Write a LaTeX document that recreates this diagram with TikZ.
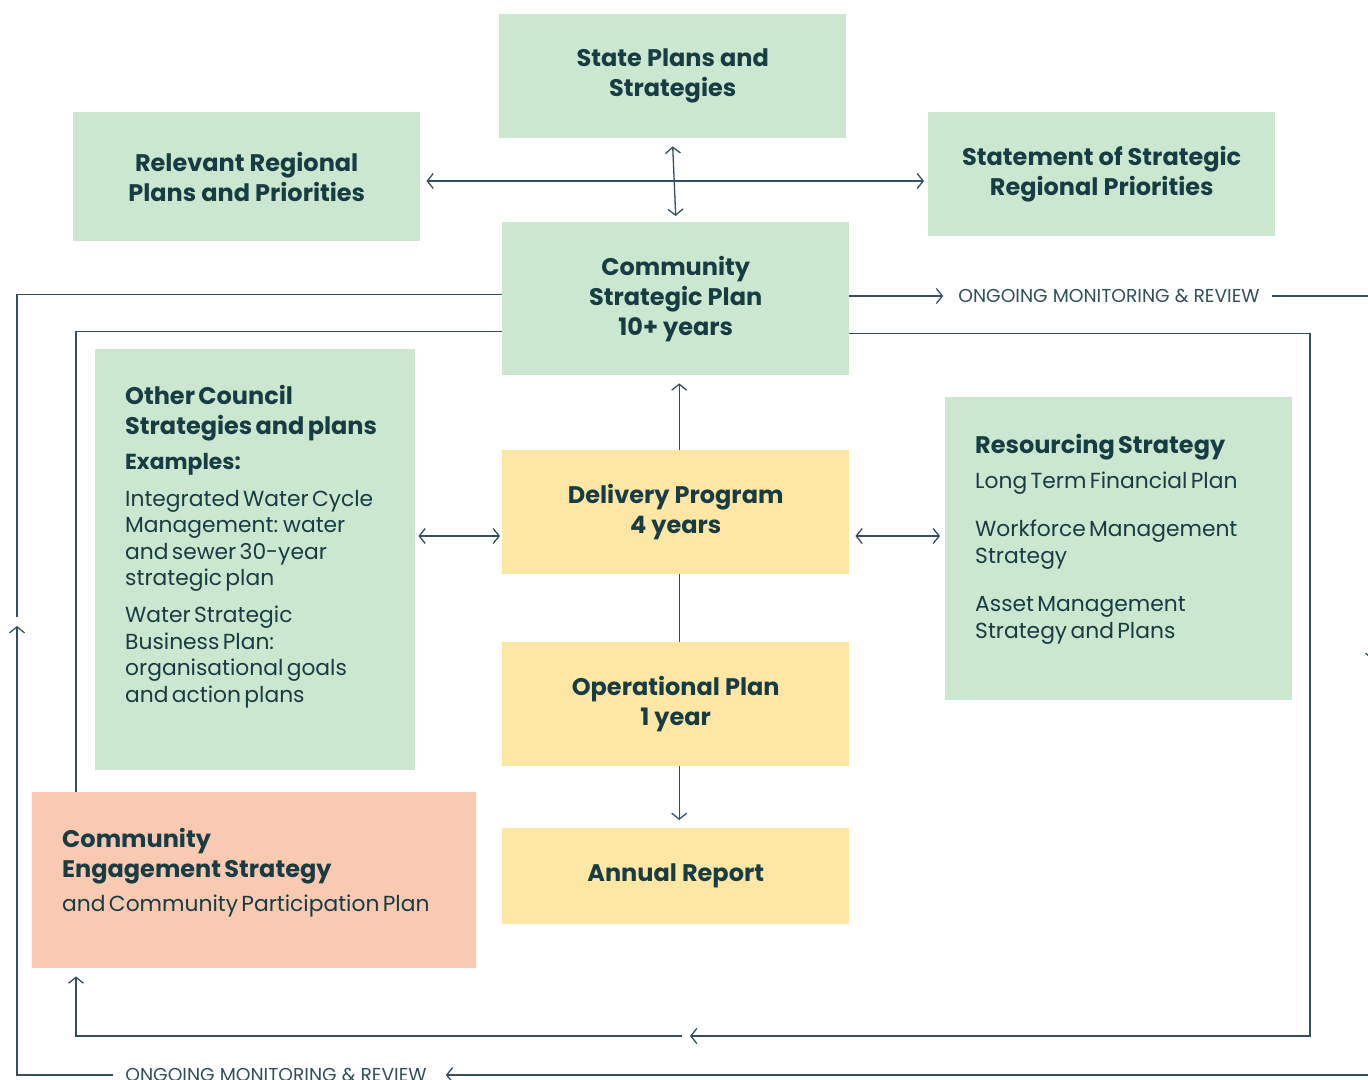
\documentclass[tikz,border=0pt]{standalone}
\usepackage{fontspec}
\setmainfont{Poppins}
\usetikzlibrary{arrows.meta}
\usetikzlibrary{positioning}

\definecolor{sage}{HTML}{CCE7CF}
\definecolor{butter}{HTML}{FEE6A4}
\definecolor{peach}{HTML}{FAC9B1}
\definecolor{ink}{HTML}{183C44}
\definecolor{wirec}{HTML}{34505F}
\tikzset{>={Straight Barb[length=6pt,width=15pt]}}

\newcommand{\hd}{\fontsize{24}{30}\selectfont\bfseries}
\newcommand{\bd}{\fontsize{21.8}{26.5}\selectfont}
\setlength{\parindent}{0pt}

\begin{document}
\begin{tikzpicture}[x=1pt, y=-1pt,
  card/.style={anchor=north west, inner sep=0pt, minimum width=347pt, minimum height=124pt,
    align=center, text=ink, font=\hd},
  blurb/.style={anchor=north west, inner sep=0pt, text=ink, text width=#1, align=left},
  tag/.style={inner xsep=12pt, inner ysep=0pt, text=ink!90, font=\fontsize{18.7}{20}\selectfont},
  wire/.style={draw=wirec, line width=1.3pt}]

\useasboundingbox (0,0) rectangle (1368,1079);
\clip (0,0) rectangle (1368,1079);

% plans above the council
\node[card, fill=sage] (state) at (499,14) {State Plans and\\Strategies};
\node[card, fill=sage, minimum height=129pt] (regional) at (73,112) {Relevant Regional\\Plans and Priorities};
\node[card, fill=sage] (priorities) at (928,112) {Statement of Strategic\\Regional Priorities};
\node[card, fill=sage, minimum height=153pt] (csp) at (502,222) {Community\\Strategic Plan\\10+ years};

% delivery chain
\node[card, fill=butter] (delivery) at (502,450) {Delivery Program\\4 years};
\node[card, fill=butter] (operational) at (502,642) {Operational Plan\\1 year};
\node[card, fill=butter, minimum height=96pt] (annual) at (502,828) {Annual Report};

% side panels
\node[card, fill=sage, minimum width=320pt, minimum height=421pt] (other) at (95,349) {};
\node[card, fill=sage, minimum height=303pt] (resourcing) at (945,397) {};
\node[card, fill=peach, minimum width=444pt, minimum height=176pt] (engage) at (32,792) {};

\node[blurb=290pt, below right=36pt and 30pt of other.north west] (othernotes) {%
  {\hd Other Council\\Strategies and plans\par}
  {\fontsize{21.8}{35}\selectfont\bfseries Examples:\par}
  \vspace{10.5pt}
  {\bd Integrated Water Cycle\\Management: water\\and sewer 30-year\\strategic plan\par}
  \vspace{10.5pt}
  {\bd Water Strategic\\Business Plan:\\organisational goals\\and action plans\par}};
\node[blurb=320pt, below right=37pt and 30pt of resourcing.north west] (resnotes) {%
  {\hd Resourcing Strategy\par}
  {\fontsize{21.8}{35}\selectfont Long Term Financial Plan\par}
  \vspace{22pt}
  {\bd Workforce Management\\Strategy\par}
  \vspace{22pt}
  {\bd Asset Management\\Strategy and Plans\par}};
\node[blurb=420pt, below right=36pt and 30pt of engage.north west] (engnotes) {%
  {\hd Community\\Engagement Strategy\par}
  {\fontsize{21.8}{34}\selectfont and Community Participation Plan\par}};

% links between plans
\coordinate (hub) at (673,181);
\coordinate (mid) at (0,536);
\coordinate (inl) at (76,0);
\draw[wire, <->] ([xshift=6pt]regional.east |- hub) -- ([xshift=-4pt]priorities.west |- hub);
\draw[wire, <->] ([yshift=-8pt]state.south) -- ([yshift=6pt]csp.north);
\draw[wire, ->] ([xshift=3.5pt]delivery.north) -- ([xshift=3.5pt, yshift=-8pt]csp.south);
\draw[wire] ([xshift=3.5pt]delivery.south) -- ([xshift=3.5pt]operational.north);
\draw[wire, ->] ([xshift=3.5pt]operational.south) -- ([xshift=3.5pt, yshift=8pt]annual.north);
\draw[wire, <->] ([xshift=3pt]other.east |- mid) -- ([xshift=-2pt]delivery.west |- mid);
\draw[wire, <->] ([xshift=6pt]delivery.east |- mid) -- ([xshift=-5pt]resourcing.west |- mid);

% outer monitoring loop
\node[tag] (review1) at (1109,296) {ONGOING MONITORING \& REVIEW};
\node[tag] (review2) at (276,1075) {ONGOING MONITORING \& REVIEW};
\draw[wire, ->, shorten >=3pt] (csp.east |- review1) -- (review1.west);
\draw[wire, ->] (review1.east) -| (1373,660);
\draw[wire, ->, shorten >=7pt] (1373,652) |- (review2.east);
\draw[wire, ->] (review2.west) -| (17,626);
\draw[wire] (17,617) |- ([yshift=4.5pt]csp.west);

% inner review loop
\draw[wire] ([yshift=-32.5pt]csp.west) -| (engage.north -| inl);
\draw[wire, ->] ([yshift=-34.5pt]csp.east) -| (1310,1036) -- (690,1036);
\draw[wire, ->] (682,1036) -| ([yshift=-8pt]engage.south -| inl);
\end{tikzpicture}
\end{document}
